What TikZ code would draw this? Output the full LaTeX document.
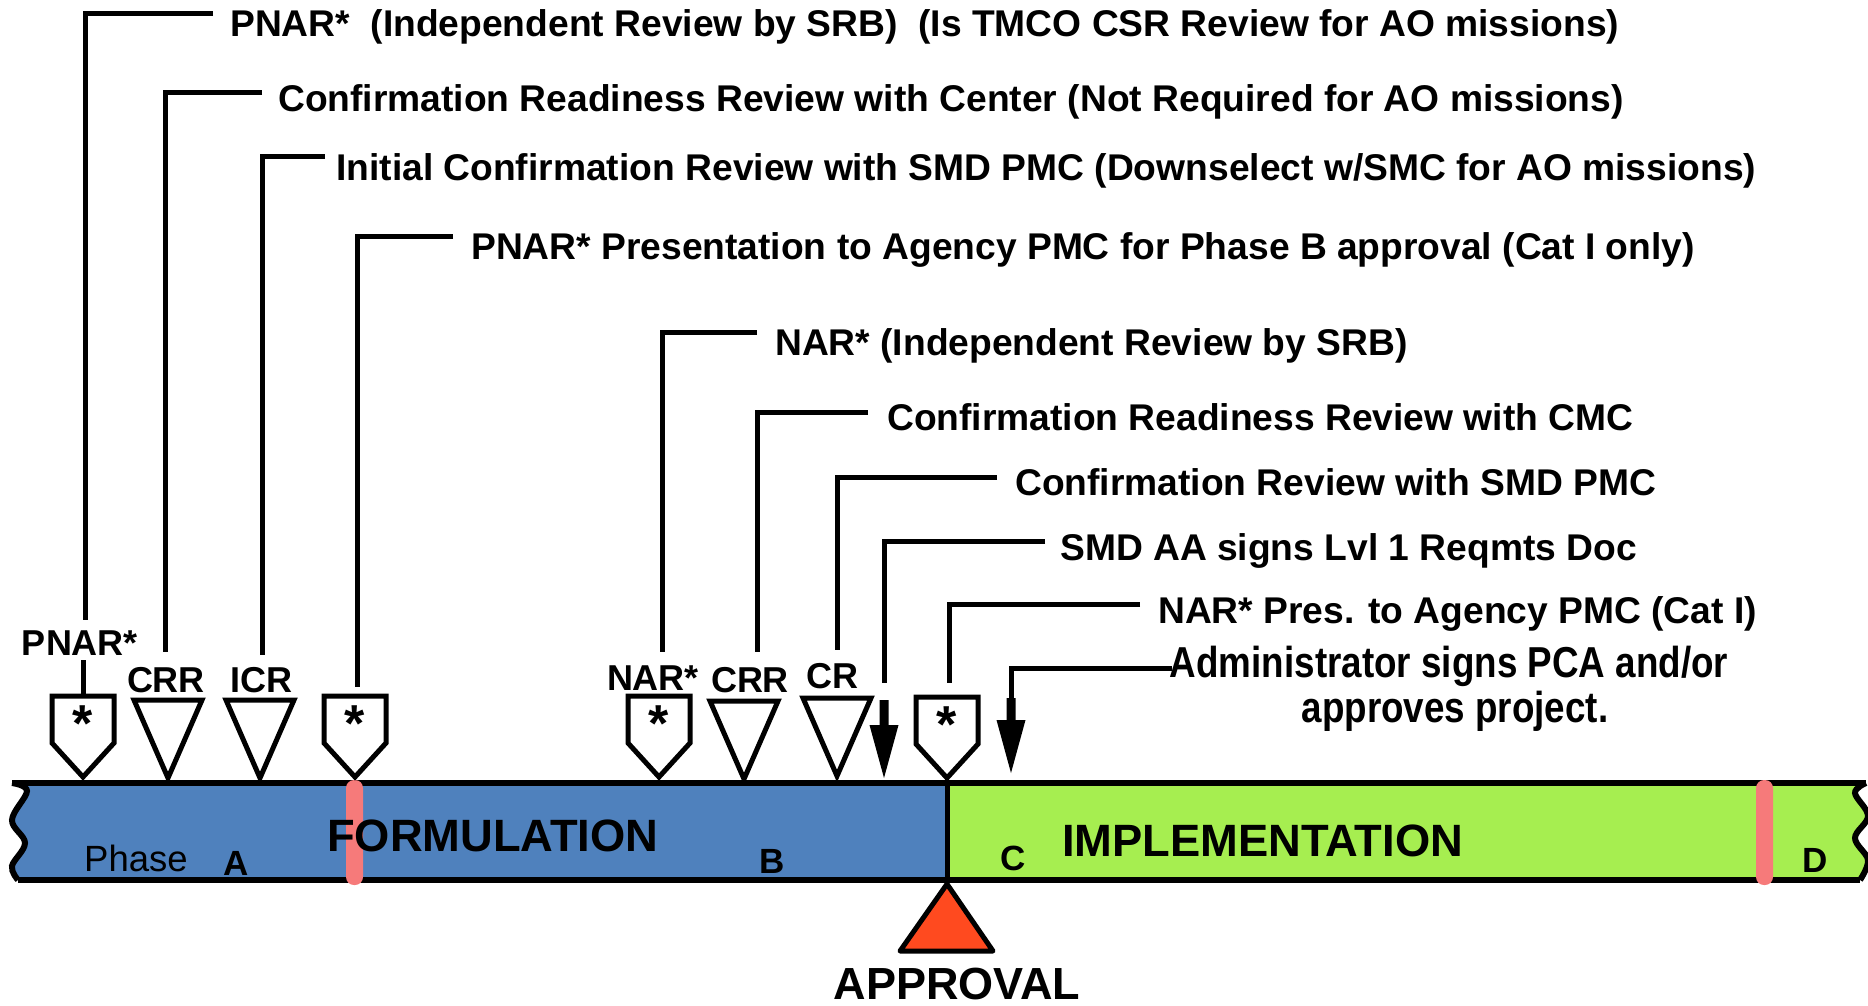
\documentclass[tikz,border=0pt]{standalone}
\usepackage{fontspec}
\setmainfont{Liberation Sans}
\newfontfamily\narrowsans[FakeStretch=0.85]{Liberation Sans}
\usetikzlibrary{calc}
\definecolor{formblue}{RGB}{79,129,189}
\definecolor{implgreen}{RGB}{166,238,80}
\definecolor{gatepink}{RGB}{246,122,122}
\definecolor{kdpred}{RGB}{255,74,31}
\begin{document}
\begin{tikzpicture}[x=1pt,y=-1pt,
  lead/.style={line width=5pt},
  barline/.style={line width=6pt},
  desc/.style={anchor=base west, inner sep=0pt, font=\fontsize{37.2}{44}\selectfont\bfseries},
  tag/.style={anchor=base, inner sep=0pt, font=\fontsize{36}{40}\selectfont\bfseries},
  phaseletter/.style={anchor=base, inner sep=0pt, font=\fontsize{35}{40}\selectfont\bfseries},
  bigword/.style={anchor=base west, inner sep=0pt, font=\fontsize{45.3}{50}\selectfont\bfseries},
  markline/.style={line width=5pt, draw=black},
  pentmark/.pic={
    \draw[markline, fill=white] (0,0) -- (-31,-34) -- (-31,-81) -- (31,-81) -- (31,-34) -- cycle;
    \node[anchor=base, inner sep=0pt, font=\fontsize{52}{52}\selectfont\bfseries] at (0,-36) {*};},
  trimark/.pic={
    \draw[markline, fill=white] (0,0) -- (-34,-78) -- (34,-78) -- cycle;},
  downarrow/.pic={
    \fill (0,0) -- (-14.5,-53) -- (-4.5,-53) -- (-4.5,-#1) -- (4.5,-#1) -- (4.5,-53) -- (14.5,-53) -- cycle;},
]
\useasboundingbox (0,0) rectangle (1868,1005);

% ---- phase bar ----
\fill[formblue] (947,783) -- (947,880) --
  plot[smooth, tension=0.6] coordinates {(18,880) (12,866) (25,843) (12,820) (27,791) (12,783)} -- cycle;
\fill[implgreen] (947,783) -- (947,880) --
  plot[smooth, tension=0.6] coordinates {(1860,880) (1868,860) (1855,838) (1868,816) (1855,793) (1866,783)} -- cycle;
\draw[barline] (12,783) -- (1866,783);
\draw[barline] (18,880) -- (1860,880);
\draw[barline] plot[smooth, tension=0.6] coordinates {(18,880) (12,866) (25,843) (12,820) (27,791) (12,783)};
\draw[barline] plot[smooth, tension=0.6] coordinates {(1860,880) (1868,860) (1855,838) (1868,816) (1855,793) (1866,783)};
\draw[line width=5pt] (947,783) -- (947,880);

% gate stripes
\fill[gatepink, rounded corners=8pt] (346,780) rectangle (363,885);
\fill[gatepink, rounded corners=8pt] (1756,780) rectangle (1773,885);

% bar labels
\node[anchor=base west, inner sep=0pt, font=\fontsize{36.5}{40}\selectfont] (phase) at (84,871) {Phase};
\node[phaseletter] (pa) at (236,875) {A};
\node[phaseletter] (pb) at (772,873) {B};
\node[phaseletter] (pc) at (1013,870) {C};
\node[phaseletter] (pd) at (1815,872) {D};
\node[bigword] (form) at (327,851) {FORMULATION};
\node[bigword] (impl) at (1062,856) {IMPLEMENTATION};

% approval milestone
\draw[line width=5pt, fill=kdpred, line join=round] (947,884) -- (993,951) -- (900,951) -- cycle;
\node[anchor=base, inner sep=0pt, font=\fontsize{45}{50}\selectfont\bfseries] (appr) at (957,999) {APPROVAL};

% ---- review markers ----
\pic at (83,777) {pentmark};
\pic at (168,778) {trimark};
\pic at (260,778) {trimark};
\pic at (355,777) {pentmark};
\pic at (659,777) {pentmark};
\pic at (744,779) {trimark};
\pic at (837,776) {trimark};
\pic at (884,778) {downarrow=78};
\pic at (947,778) {pentmark};
\pic at (1011,773) {downarrow=75};

% marker tags
\node[tag] (tpnar) at (80,655) {PNAR*};
\node[tag] (tcrr) at (166,692) {CRR};
\node[tag] (ticr) at (261,692) {ICR};
\node[tag] (tnar) at (653,690) {NAR*};
\node[tag] (tcrr2) at (750,692) {CRR};
\node[tag] (tcr) at (832,688) {CR};

% ---- descriptions ----
\node[desc] (d1) at (230,36) {PNAR*~~(Independent Review by SRB)~~(Is TMCO CSR Review for AO missions)};
\node[desc] (d2) at (278,111) {Confirmation Readiness Review with Center (Not Required for AO missions)};
\node[desc] (d3) at (336,180) {Initial Confirmation Review with SMD PMC (Downselect w/SMC for AO missions)};
\node[desc] (d4) at (471,259) {PNAR* Presentation to Agency PMC for Phase B approval (Cat I only)};
\node[desc] (d5) at (775,355) {NAR* (Independent Review by SRB)};
\node[desc] (d6) at (887,430) {Confirmation Readiness Review with CMC};
\node[desc] (d7) at (1015,495) {Confirmation Review with SMD PMC};
\node[desc] (d8) at (1060,560) {SMD AA signs Lvl 1 Reqmts Doc};
\node[desc] (d9) at (1158,623) {NAR* Pres. to Agency PMC (Cat I)};
\node[anchor=base, inner sep=0pt, font=\fontsize{43.3}{48}\narrowsans\bfseries] (d10) at (1449,677) {Administrator signs PCA and/or};
\node[anchor=base, inner sep=0pt, font=\fontsize{43.3}{48}\narrowsans\bfseries] (d10b) at (1455,722) {approves project.};

% ---- leaders ----
\coordinate (l1a) at (213,13);   \coordinate (l1b) at (85,620);
\coordinate (l2a) at (262,92);   \coordinate (l2b) at (165,652);
\coordinate (l3a) at (325,156);  \coordinate (l3b) at (262,655);
\coordinate (l4a) at (453,236);  \coordinate (l4b) at (357,687);
\coordinate (l5a) at (757,332);  \coordinate (l5b) at (662,652);
\coordinate (l6a) at (868,412);  \coordinate (l6b) at (757,652);
\coordinate (l7a) at (997,477);  \coordinate (l7b) at (837,650);
\coordinate (l8a) at (1045,541); \coordinate (l8b) at (884,683);
\coordinate (l9a) at (1140,604); \coordinate (l9b) at (949,683);
\coordinate (l10a) at (1172,668); \coordinate (l10b) at (1011,700);
\coordinate (s1a) at (83,660);   \coordinate (s1b) at (83,697);

\foreach \k in {1,...,10} {\draw[lead] (l\k a) -| (l\k b);}
\draw[lead] (s1a) -- (s1b);
\end{tikzpicture}
\end{document}
